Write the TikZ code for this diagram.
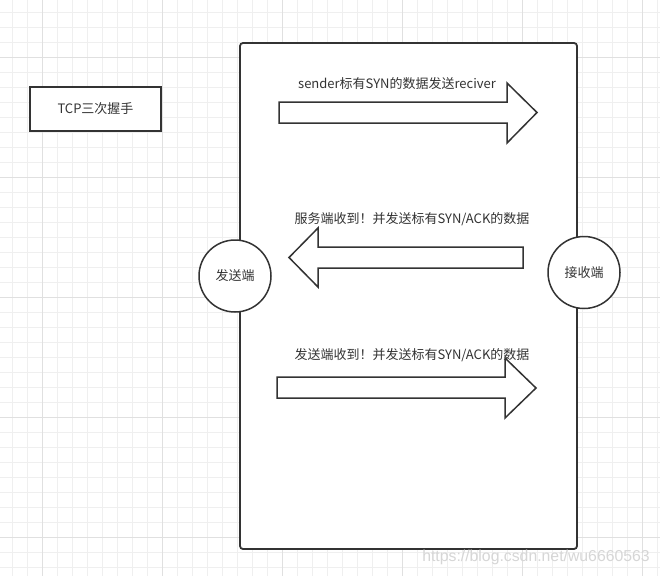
\documentclass[tikz,border=0pt]{standalone}
\usepackage{fontspec}
\setmainfont{Noto Sans CJK SC}
\newfontfamily\wmfont{Liberation Sans}
\definecolor{ink}{HTML}{333333}
\definecolor{gridminor}{HTML}{EFEFEF}
\definecolor{gridmajor}{HTML}{E0E0E0}
\definecolor{wmark}{HTML}{D6D6D6}
\begin{document}
\begin{tikzpicture}[x=1pt,y=-1pt,
  minorline/.style={draw=gridminor, line width=0.9pt},
  majorline/.style={draw=gridmajor, line width=1pt},
  lbl/.style={text=ink, font=\fontsize{13}{15}\selectfont, inner sep=0pt},
  frame/.style={draw=ink, fill=white, line width=1.8pt, rounded corners=3pt, inner sep=0pt},
  titlebox/.style={draw=ink, fill=white, line width=1.6pt, inner sep=0pt, text=ink, font=\fontsize{13}{15}\selectfont},
  endpoint/.style={circle, draw=ink, fill=white, line width=1.5pt, minimum size=72pt, inner sep=0pt, text=ink, font=\fontsize{13}{15}\selectfont},
  blockarrow/.style={draw=ink, fill=white, line width=1.5pt, line join=miter},
]
\useasboundingbox (0,0) rectangle (660,576);
\fill[white] (0,0) rectangle (660,576);
% grid
\foreach \x in {12,27,...,657} \draw[minorline] (\x,0) -- (\x,576);
\foreach \y in {12,27,...,567} \draw[minorline] (0,\y) -- (660,\y);
\foreach \x in {42,162,...,642} \draw[majorline] (\x,0) -- (\x,576);
\foreach \y in {57,177,...,537} \draw[majorline] (0,\y) -- (660,\y);
% frame
\node[frame, minimum width=337pt, minimum height=506pt] (lane) at (408.5,296) {};
% title
\node[titlebox, minimum width=131pt, minimum height=44pt] (title) at (95.5,109) {TCP三次握手};
% endpoints
\node[endpoint] (sender) at (235,276) {发送端};
\node[endpoint] (receiver) at (584,272.5) {接收端};
% block arrows
\draw[blockarrow] (279,102) -- (507,102) -- (507,83) -- (537,112.5) -- (507,143) -- (507,123) -- (279,123) -- cycle;
\draw[blockarrow] (523,247) -- (318,247) -- (318,228) -- (289,257.5) -- (318,287) -- (318,268) -- (523,268) -- cycle;
\draw[blockarrow] (277,377) -- (505,377) -- (505,358) -- (536,388) -- (505,418) -- (505,398) -- (277,398) -- cycle;
% labels
\node[lbl] (t1) at (397,84) {sender标有SYN的数据发送reciver};
\node[lbl] (t2) at (412,219) {服务端收到！并发送标有SYN/ACK的数据};
\node[lbl] (t3) at (412,355) {发送端收到！并发送标有SYN/ACK的数据};
% watermark
\node[text=wmark, font=\wmfont\fontsize{15.8}{18}\selectfont, inner sep=0pt] (wm) at (536,557) {https://blog.csdn.net/wu6660563};
\end{tikzpicture}
\end{document}
